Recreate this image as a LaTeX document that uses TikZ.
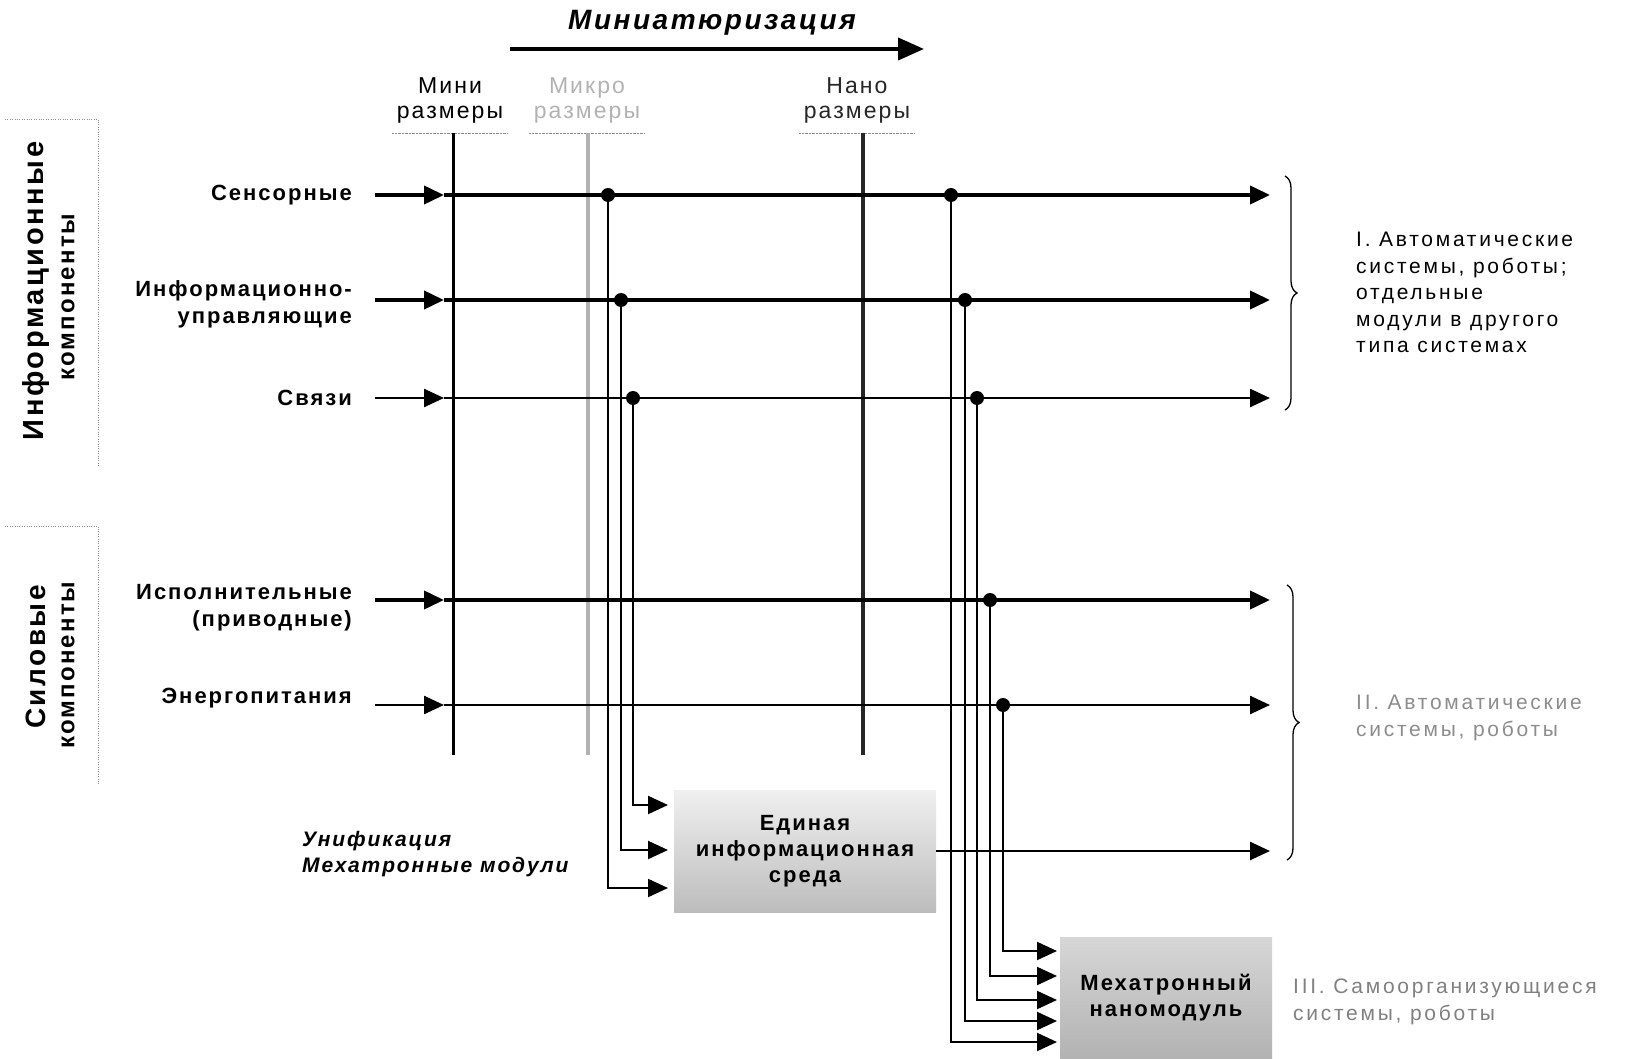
\documentclass[tikz,border=0pt]{standalone}
\usepackage{fontspec}
\setmainfont{Liberation Sans}[LetterSpace=9]
\newfontfamily\widefont{Liberation Sans}[LetterSpace=13]
\usetikzlibrary{arrows.meta,decorations.pathreplacing}
\tikzset{
  tip/.style={-{Triangle[length=20pt,width=18pt]}},
  rowlabel/.style={anchor=east,align=right,inner sep=0pt,font=\bfseries\fontsize{22}{27}\selectfont},
  collabel/.style={align=center,inner sep=0pt,font=\fontsize{23}{25}\selectfont},
  sidelabel/.style={anchor=north west,align=left,inner sep=0pt,font=\widefont\fontsize{21}{26.5}\selectfont},
  grouplabel/.style={rotate=90,inner sep=0pt,font=\bfseries\fontsize{28}{30}\selectfont},
  junction/.style={circle,fill,inner sep=0pt,minimum size=14pt},
  greybox/.style={align=center,inner sep=0pt,font=\bfseries\fontsize{22}{26}\selectfont},
}
\begin{document}
\begin{tikzpicture}[x=1pt,y=-1pt]
\useasboundingbox (0,0) rectangle (1625,1059);
\node[font=\bfseries\itshape\fontsize{28}{30}\selectfont] (title) at (712,23) {Миниатюризация};
\coordinate (ma) at (510,49);
\coordinate (mb) at (924,49);
\draw[line width=4pt,-{Triangle[length=26pt,width=22pt]}] (ma) -- (mb);
\foreach \name/\x/\lx/\col/\w/\txt in {mini/453/450/black/3pt/Мини, micro/588/587/black!30/4pt/Микро, nano/863/857/black!85/4pt/Нано}{
  \node[collabel,text=\col] (\name) at (\lx,100) {\txt\\размеры};
  \draw[densely dotted,black!45] (\lx-58,133) -- (\lx+58,133);
  \draw[line width=\w,color=\col] (\x,133) -- (\x,755);
}
\node[grouplabel,font=\bfseries\fontsize{29}{30}\selectfont] (infoA) at (36,291) {Информационные};
\node[grouplabel,font=\bfseries\fontsize{24}{26}\selectfont] (infoB) at (68,297) {компоненты};
\node[grouplabel] (powA) at (36,657) {Силовые};
\node[grouplabel,font=\bfseries\fontsize{24}{26}\selectfont] (powB) at (68,665) {компоненты};
\draw[dotted,black!45] (5,119) -- (98,119) -- (98,466);
\draw[dotted,black!45] (5,526) -- (98,526) -- (98,785);
\foreach \n/\y/\ly/\w/\txt in {1/195/195/3.8pt/Сенсорные, 2/300/304/3.8pt/{Информационно-\\управляющие}, 3/398/398/2.5pt/Связи, 4/600/608/3.8pt/{Исполнительные\\(приводные)}, 5/705/698/2.5pt/Энергопитания}{
  \node[rowlabel] (lab\n) at (352,\ly) {\txt};
  \coordinate (s\n) at (375,\y);
  \coordinate (m\n) at (444,\y);
  \coordinate (e\n) at (1270,\y);
  \draw[line width=\w,tip] (s\n) -- (m\n);
  \draw[line width=\w,tip] (m\n) -- (e\n);
}
\node[greybox,top color=black!6,bottom color=black!26,minimum width=262pt,minimum height=122pt] (eis) at (805,851) {Единая\\информационная\\среда};
\node[greybox,top color=black!16,bottom color=black!30,minimum width=212pt,minimum height=121pt] (nano) at (1166,998) {Мехатронный\\наномодуль};
\foreach \n/\x/\y/\t in {1/608/195/888, 2/621/300/850, 3/633/398/805}{
  \node[junction] (dm\n) at (\x,\y) {};
  \coordinate (em\n) at (668,\t);
  \draw[line width=2pt,tip] (dm\n.center) |- (em\n);
}
\foreach \n/\x/\y/\t in {1/951/195/1042, 2/965/300/1021, 3/977/398/1000, 4/990/600/976, 5/1003/705/951}{
  \node[junction] (dn\n) at (\x,\y) {};
  \coordinate (en\n) at (1057,\t);
  \draw[line width=2pt,tip] (dn\n.center) |- (en\n);
}
\coordinate (e6) at (1270,851);
\draw[line width=2.5pt,tip] (eis.east) -- (e6);
\node[anchor=north west,align=left,inner sep=0pt,font=\bfseries\itshape\fontsize{21}{26}\selectfont] (unif) at (302,831) {Унификация\\Мехатронные модули};
\coordinate (ba) at (1285,176);
\coordinate (bb) at (1285,410);
\coordinate (bc) at (1287,585);
\coordinate (bd) at (1287,860);
\draw[line width=1.3pt,decorate,decoration={brace,amplitude=12pt}] (ba) -- (bb);
\draw[line width=1.3pt,decorate,decoration={brace,amplitude=12pt}] (bc) -- (bd);
\node[sidelabel] (sys1) at (1356,232) {I. Автоматические\\системы, роботы;\\отдельные\\модули в другого\\типа системах};
\node[sidelabel,text=black!45] (sys2) at (1356,695) {II. Автоматические\\системы, роботы};
\node[sidelabel,text=black!50] (sys3) at (1293,979) {III. Самоорганизующиеся\\системы, роботы};
\end{tikzpicture}
\end{document}
